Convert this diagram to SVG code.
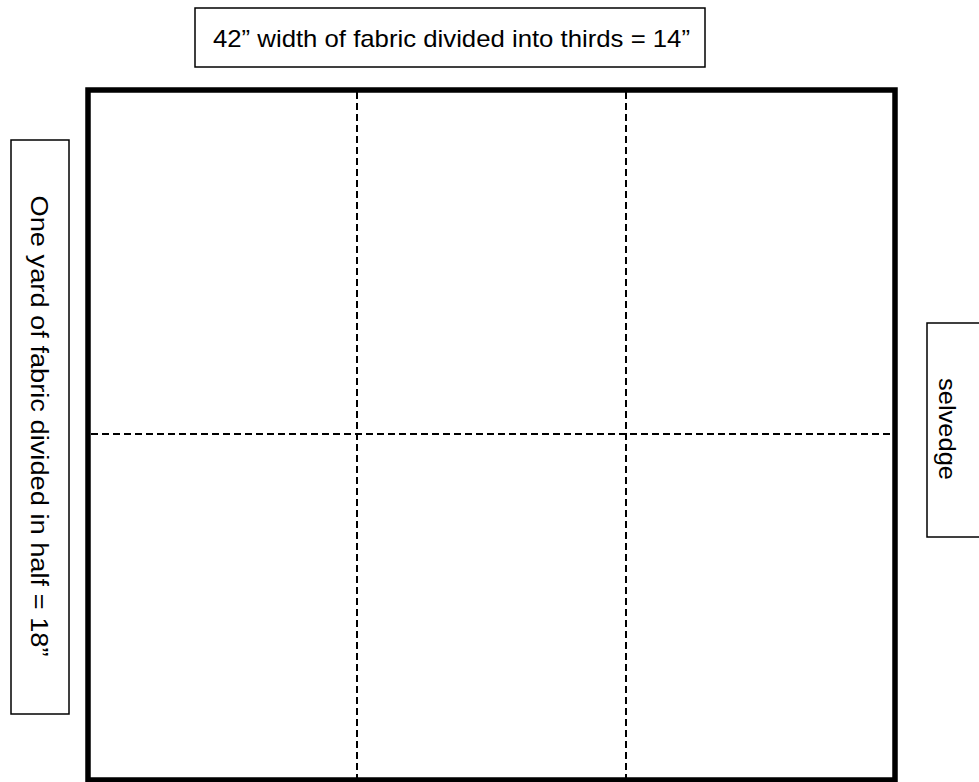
<svg xmlns="http://www.w3.org/2000/svg" width="979" height="782" viewBox="0 0 979 782">
<style>
.box{fill:#fff;stroke:#000;stroke-width:1.5}
.lbl{font-family:"Liberation Sans",Arial,sans-serif;fill:#000}
.cut{stroke:#000;stroke-width:2;stroke-dasharray:7 4;fill:none}
</style>
<rect width="979" height="782" fill="#fff"/>
<g id="top-label">
<rect class="box" x="195" y="8" width="510" height="59"/>
<text class="lbl" x="213" y="47" font-size="24" textLength="477" lengthAdjust="spacingAndGlyphs">42” width of fabric divided into thirds = 14”</text>
</g>
<g id="left-label">
<rect class="box" x="11" y="140" width="58" height="574"/>
<text class="lbl" transform="translate(31,426) rotate(90)" text-anchor="middle" font-size="23" textLength="461" lengthAdjust="spacingAndGlyphs">One yard of fabric divided in half = 18”</text>
</g>
<g id="right-label">
<rect class="box" x="927" y="323" width="60" height="214"/>
<text class="lbl" transform="translate(939,429) rotate(90)" text-anchor="middle" font-size="24" textLength="102" lengthAdjust="spacingAndGlyphs">selvedge</text>
</g>
<g id="fabric">
<rect x="88" y="90" width="807" height="690" fill="#fff" stroke="#000" stroke-width="5.5"/>
</g>
<g id="connectors">
<line class="cut" x1="357" y1="92" x2="357" y2="778"/>
<line class="cut" x1="626" y1="92" x2="626" y2="778"/>
<line class="cut" x1="91" y1="434" x2="892" y2="434"/>
</g>
</svg>
